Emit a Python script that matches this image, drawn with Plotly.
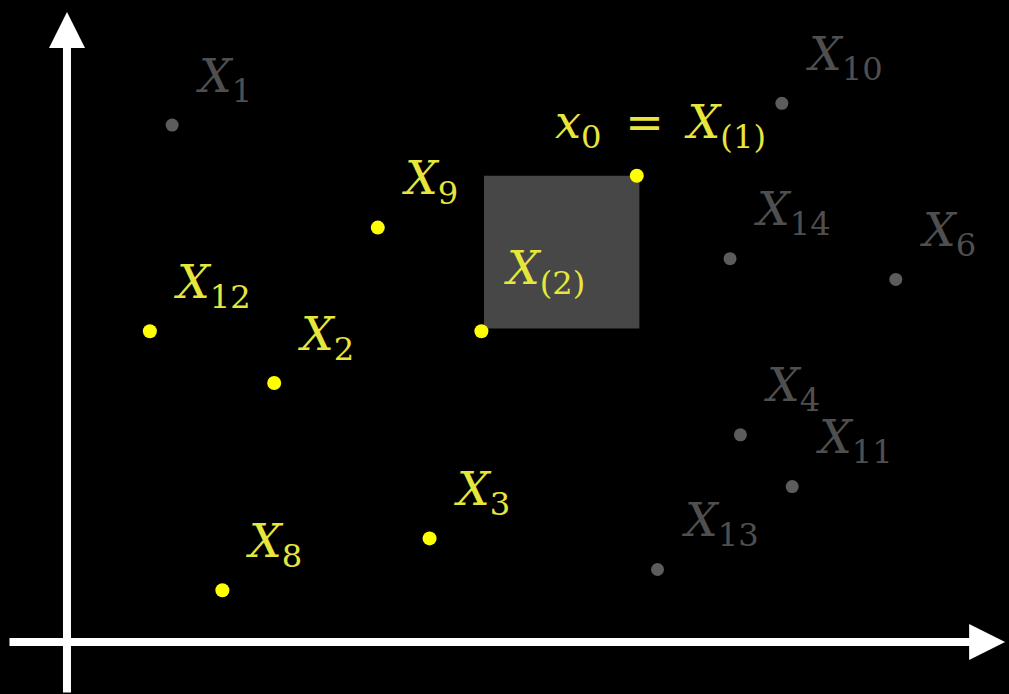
import plotly.graph_objects as go

# data (unit grid)
yellow_names = ["x0", "X9", "X12", "X(2)", "X2", "X3", "X8"]
yellow_x = [11.0, 6.0, 1.6, 8.0, 4.0, 7.0, 3.0]
yellow_y = [9.0, 8.0, 6.0, 6.0, 5.0, 2.0, 1.0]
yellow_labels = ["<i>x</i><sub>0</sub>&#160;&#8201;=&#8201;&#160;<i>X</i><sub>(1)</sub>",
                 "<i>X</i><sub>9</sub>",
                 "<i>X</i><sub>12</sub>", "<i>X</i><sub>(2)</sub>", "<i>X</i><sub>2</sub>",
                 "<i>X</i><sub>3</sub>", "<i>X</i><sub>8</sub>"]

grey_names = ["X1", "X10", "X14", "X6", "X4", "X11", "X13"]
grey_x = [2.03, 13.8, 12.8, 16.0, 13.0, 14.0, 11.4]
grey_y = [9.98, 10.4, 7.4, 7.0, 4.0, 3.0, 1.4]
grey_labels = ["<i>X</i><sub>1</sub>", "<i>X</i><sub>10</sub>", "<i>X</i><sub>14</sub>",
               "<i>X</i><sub>6</sub>", "<i>X</i><sub>4</sub>", "<i>X</i><sub>11</sub>",
               "<i>X</i><sub>13</sub>"]

# neighbourhood square between X(2) and X(1)
square_x = [8.05, 11.05]
square_y = [6.05, 9.0]

X_RANGE = [-1.293, 18.185]
Y_RANGE = [-1.004, 12.394]

YELLOW = "#ffff00"
YELLOW_TXT = "#e6e63c"
GREY = "#5c5c5c"
GREY_TXT = "#4f4f4f"
FONT = "DejaVu Serif"
FS = 46

label_shift = {"x0": (-84, 50), "X(2)": (21, 60)}
default_shift = (22, 46)

fig = go.Figure()

fig.add_shape(type="rect", x0=square_x[0], x1=square_x[1], y0=square_y[0], y1=square_y[1],
              fillcolor="#474747", line=dict(width=0), layer="below")

fig.add_trace(go.Scatter(x=grey_x, y=grey_y, mode="markers",
                         marker=dict(color=GREY, size=13, line=dict(width=0)), hoverinfo="skip"))
fig.add_trace(go.Scatter(x=yellow_x, y=yellow_y, mode="markers",
                         marker=dict(color=YELLOW, size=14, line=dict(width=0)), hoverinfo="skip"))

anns = []
for names, xs, ys, labs, col in [(yellow_names, yellow_x, yellow_y, yellow_labels, YELLOW_TXT),
                                  (grey_names, grey_x, grey_y, grey_labels, GREY_TXT)]:
    for n, x, y, t in zip(names, xs, ys, labs):
        dx, dy = label_shift.get(n, default_shift)
        anns.append(dict(x=x, y=y, xref="x", yref="y", text=t, showarrow=False,
                         xanchor="left", yanchor="middle", xshift=dx, yshift=dy,
                         font=dict(family=FONT, size=FS, color=col)))

# axes arrows
anns.append(dict(x=0, y=12.16, ax=0, ay=Y_RANGE[0], xref="x", yref="y", axref="x", ayref="y",
                 text="", showarrow=True, arrowhead=2, arrowwidth=8, arrowsize=0.9,
                 arrowcolor="white", standoff=0))
anns.append(dict(x=18.11, y=0, ax=-1.139, ay=0, xref="x", yref="y", axref="x", ayref="y",
                 text="", showarrow=True, arrowhead=2, arrowwidth=8, arrowsize=0.9,
                 arrowcolor="white", standoff=0))

fig.update_layout(
    width=1009, height=694, autosize=False,
    margin=dict(l=0, r=0, t=0, b=0),
    paper_bgcolor="black", plot_bgcolor="black",
    showlegend=False,
    xaxis=dict(range=X_RANGE, visible=False, fixedrange=True),
    yaxis=dict(range=Y_RANGE, visible=False, fixedrange=True),
    annotations=anns,
)

fig.write_html("out.html", config={"displayModeBar": False},
               post_script="document.body.style.margin='0';document.body.style.background='black';")
